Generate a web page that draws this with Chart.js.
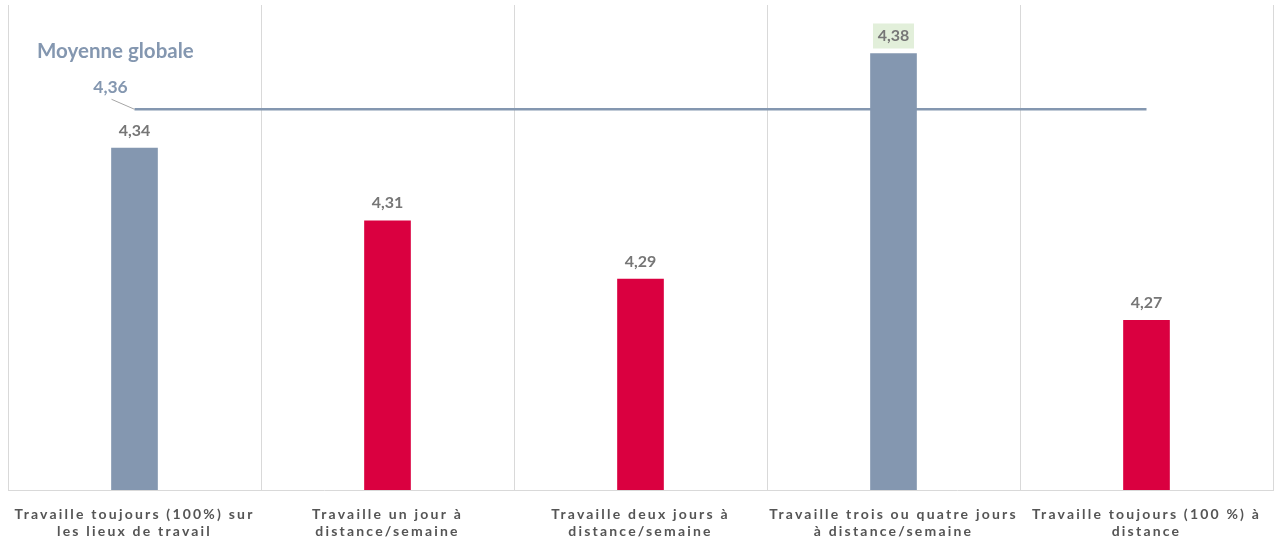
<!DOCTYPE html>
<html>
<head>
<meta charset="utf-8">
<script src="https://cdn.jsdelivr.net/npm/chart.js@4"></script>
<style>
  html, body { margin: 0; padding: 0; background: #fff; }
  #wrap { width: 1275px; height: 543px; position: relative; }
</style>
</head>
<body>
<div id="wrap"><canvas id="chart"></canvas></div>
<script>
// data
const categories = [
  ['Travaille toujours (100%) sur', 'les lieux de travail'],
  ['Travaille un jour à', 'distance/semaine'],
  ['Travaille deux jours à', 'distance/semaine'],
  ['Travaille trois ou quatre jours', 'à distance/semaine'],
  ['Travaille toujours (100 %) à', 'distance']
];
const values = [4.341, 4.311, 4.287, 4.380, 4.270];
const barColors = ['#8497B0', '#DA0040', '#DA0040', '#8497B0', '#DA0040'];
const average = 4.357;
const averageLabel = 'Moyenne globale';
const highlightIndex = 3;

const fmt = v => v.toFixed(2).replace('.', ',');
const FONT = 'Lato';

// value labels, average label, letter spacing for the axis
const labelsPlugin = {
  id: 'labels',
  beforeDraw(chart) {
    chart.ctx.letterSpacing = '2.2px';
  },
  afterDatasetsDraw(chart) {
    const ctx = chart.ctx;
    ctx.save();
    ctx.letterSpacing = '0px';
    ctx.textAlign = 'center';
    ctx.textBaseline = 'middle';
    ctx.font = 'bold 16px ' + FONT;
    chart.getDatasetMeta(0).data.forEach((bar, i) => {
      const txt = fmt(values[i]);
      const y = bar.y - 17.5;
      if (i === highlightIndex) {
        ctx.fillStyle = '#E2EFDA';
        ctx.fillRect(bar.x - 20.5, y - 12.5, 41, 25);
      }
      ctx.fillStyle = '#767676';
      ctx.fillText(txt, bar.x, y);
    });

    const p = chart.getDatasetMeta(1).data[0];
    ctx.strokeStyle = '#A6A6A6';
    ctx.lineWidth = 1;
    ctx.beginPath();
    ctx.moveTo(p.x - 23, p.y - 10);
    ctx.lineTo(p.x, p.y);
    ctx.stroke();
    ctx.fillStyle = '#8497B0';
    ctx.font = 'bold 17.5px ' + FONT;
    ctx.fillText(fmt(average), p.x - 24, p.y - 22);
    ctx.textAlign = 'left';
    ctx.font = 'bold 20.5px ' + FONT;
    ctx.fillText(averageLabel, 37, p.y - 58);
    ctx.restore();
  },
  afterDraw(chart) {
    chart.ctx.letterSpacing = '0px';
  }
};

new Chart(document.getElementById('chart'), {
  type: 'bar',
  data: {
    labels: categories,
    datasets: [{
      data: values,
      backgroundColor: barColors,
      barThickness: 46,
      order: 0
    }, {
      type: 'line',
      data: values.map(() => average),
      borderColor: '#8497B0',
      borderWidth: 2.5,
      pointRadius: 0,
      fill: false,
      order: 1
    }]
  },
  options: {
    responsive: true,
    maintainAspectRatio: false,
    animation: false,
    layout: { padding: { left: 8, right: 2, top: 5, bottom: 0 } },
    plugins: { legend: { display: false }, tooltip: { enabled: false } },
    scales: {
      x: {
        grid: { color: '#D9D9D9', drawTicks: false, offset: true },
        border: { color: '#D9D9D9' },
        ticks: {
          color: '#555555',
          font: { family: FONT, size: 14, weight: 'bold', lineHeight: 1.22 },
          padding: 16,
          maxRotation: 0,
          autoSkip: false
        },
        afterFit: s => { s.height = 53; }
      },
      y: { display: false, min: 4.2, max: 4.4 }
    }
  },
  plugins: [labelsPlugin]
});
</script>
</body>
</html>
